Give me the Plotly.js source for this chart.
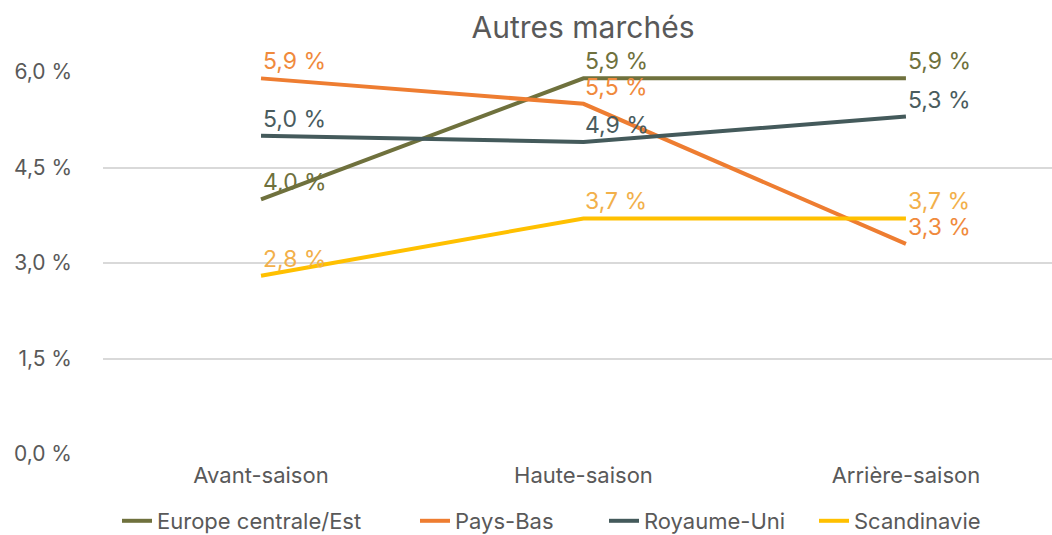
<!DOCTYPE html>
<html>
<head>
<meta charset="utf-8">
<script src="https://cdn.plot.ly/plotly-3.0.1.min.js"></script>
<style>html,body{margin:0;padding:0;background:#fff;}#chart{width:1052px;height:535px;}</style>
</head>
<body>
<div id="chart"></div>
<script>
const categories = ["Avant-saison", "Haute-saison", "Arrière-saison"];
const seriesNames = ["Europe centrale/Est", "Pays-Bas", "Royaume-Uni", "Scandinavie"];
const europeCentrale = [4.0, 5.9, 5.9];
const paysBas = [5.9, 5.5, 3.3];
const royaumeUni = [5.0, 4.9, 5.3];
const scandinavie = [2.8, 3.7, 3.7];
const yTickVals = [0, 1.5, 3.0, 4.5, 6.0];
const yTickText = ["0,0 %", "1,5 %", "3,0 %", "4,5 %", "6,0 %"];

const seriesValues = [europeCentrale, paysBas, royaumeUni, scandinavie];
const lineColors = ["#6f713d", "#ee7d31", "#445a5b", "#ffc000"];
const labelColors = ["#6f713d", "#f08a3c", "#4a5c5e", "#f2b04a"];
const legendIds = ["legend", "legend2", "legend3", "legend4"];
const legendX = [117, 415, 604, 814];

const FONT = "Inter, Liberation Sans, Arial, sans-serif";
const fmt = v => v.toFixed(1).replace(".", ",") + " %";

const traces = seriesValues.map((vals, i) => ({
  type: "scatter",
  mode: "lines",
  name: seriesNames[i],
  legend: legendIds[i],
  x: categories,
  y: vals,
  line: {color: lineColors[i], width: 4},
  hoverinfo: "skip"
}));

const annotations = [];
seriesValues.forEach((vals, i) => {
  vals.forEach((v, j) => {
    annotations.push({
      x: categories[j], y: v, xref: "x", yref: "y",
      text: fmt(v), showarrow: false,
      xanchor: "left", yanchor: "middle",
      xshift: 0, yshift: 17,
      font: {family: FONT, size: 23, color: labelColors[i]}
    });
  });
});

const layout = {
  width: 1052, height: 535,
  margin: {l: 103, r: 0, t: 72, b: 81},
  paper_bgcolor: "#fff", plot_bgcolor: "#fff",
  font: {family: FONT, color: "#595959", size: 21},
  title: {text: "Autres marchés", x: 583 / 1052, xref: "container", xanchor: "center",
          y: 1 - 27 / 535, yanchor: "middle",
          font: {family: FONT, size: 30, color: "#595959"}},
  xaxis: {
    type: "category", range: [-0.49, 2.453],
    showgrid: false, zeroline: false, showline: false,
    ticks: "", ticklabelstandoff: 6,
    tickfont: {family: FONT, size: 22, color: "#595959"}
  },
  yaxis: {
    range: [0, 6.0], tickvals: yTickVals, ticktext: yTickText,
    showgrid: true, gridcolor: "#d9d9d9", gridwidth: 2,
    zeroline: false, showline: false, ticks: "",
    ticklabelstandoff: 30,
    tickfont: {family: FONT, size: 21, color: "#595959"}
  },
  showlegend: true,
  annotations: annotations
};
legendIds.forEach((id, i) => {
  layout[id] = {
    orientation: "h", xref: "container", yref: "container",
    x: legendX[i] / 1052, xanchor: "left",
    y: 1 - 521 / 535, yanchor: "middle",
    font: {family: FONT, size: 22, color: "#595959"},
    itemwidth: 30, bgcolor: "rgba(0,0,0,0)", borderwidth: 0
  };
});

Plotly.newPlot("chart", traces, layout, {displayModeBar: false, staticPlot: true});
</script>
</body>
</html>
